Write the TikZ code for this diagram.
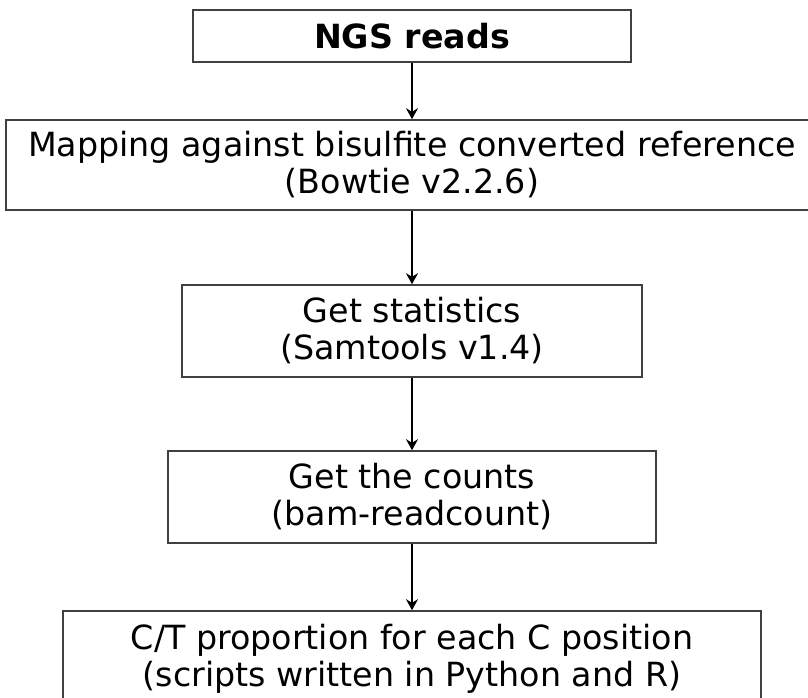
\documentclass[tikz,border=0pt]{standalone}
\usepackage{fontspec}
\setmainfont{DejaVu Sans}
\usetikzlibrary{arrows.meta}
\begin{document}
\begin{tikzpicture}[x=1pt,y=-1pt,
  stepbox/.style={draw=black!75, line width=1.6pt, fill=white, align=center,
    inner sep=0pt, font=\fontsize{33.3}{37}\selectfont},
  flow/.style={line width=2.6pt, -{Stealth[length=11pt,width=12pt]}}]
  \useasboundingbox (0,0) rectangle (808,697);
  \node[stepbox, minimum width=438pt, minimum height=52pt] (reads) at (412,36)
    {\textbf{NGS reads}};
  \node[stepbox, minimum width=812pt, minimum height=90pt] (map) at (412,165)
    {Mapping against bisulfite converted reference\\(Bowtie v2.2.6)};
  \node[stepbox, minimum width=460pt, minimum height=92pt] (stats) at (412,331)
    {Get statistics\\(Samtools v1.4)};
  \node[stepbox, minimum width=488pt, minimum height=92pt] (counts) at (412,497)
    {Get the counts\\(bam-readcount)};
  \node[stepbox, minimum width=698pt, minimum height=96pt] (prop) at (412,659)
    {C/T proportion for each C position\\(scripts written in Python and R)};
  \draw[flow] (reads.south) -- (map.north);
  \draw[flow] (map.south) -- (stats.north);
  \draw[flow] (stats.south) -- (counts.north);
  \draw[flow] (counts.south) -- (prop.north);
\end{tikzpicture}
\end{document}
